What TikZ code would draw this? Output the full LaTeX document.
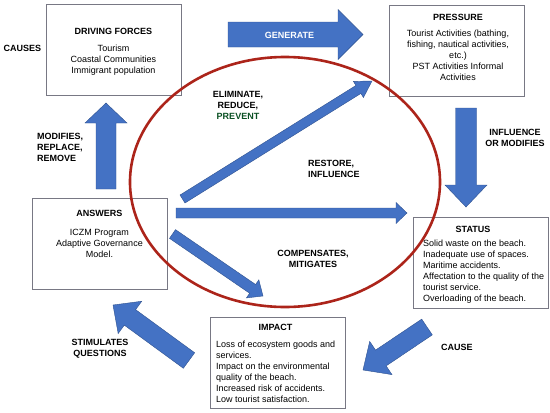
\documentclass[tikz,border=0pt]{standalone}
\usepackage{fontspec}
\setmainfont{Liberation Sans}
\usetikzlibrary{calc}
\definecolor{arrowblue}{RGB}{68,114,196}
\definecolor{arrowedge}{RGB}{47,82,143}
\definecolor{boxgray}{RGB}{120,120,132}
\definecolor{ringred}{RGB}{172,36,26}
\definecolor{darkgreen}{RGB}{10,80,35}
\tikzset{
  box/.style={draw=boxgray, line width=0.8pt, minimum width=135pt, minimum height=91pt, inner sep=0pt},
  txt/.style={font=\fontsize{9}{11}\selectfont, inner sep=0pt, align=center},
  lbl/.style={font=\bfseries\fontsize{9}{11}\selectfont, inner sep=0pt, align=center},
  blockarrow/.style={fill=arrowblue, draw=arrowedge, line width=0.4pt, line join=miter},
  ring/.style={draw=ringred, line width=2.6pt}
}
% #1 from, #2 to, #3 shaft half width, #4 head half width, #5 head length
\newcommand\blockarrow[5]{%
  \coordinate (ba-h) at ($(#2)!#5!(#1)$);
  \filldraw[blockarrow] ($(#1)!#3!90:(#2)$) -- ($(ba-h)!#3!90:(#2)$) -- ($(ba-h)!#4!90:(#2)$) -- (#2)
    -- ($(ba-h)!#4!-90:(#2)$) -- ($(ba-h)!#3!-90:(#2)$) -- ($(#1)!#3!-90:(#2)$) -- cycle;
}
\begin{document}
\begin{tikzpicture}[x=1pt,y=-1pt]
\useasboundingbox (0,0) rectangle (550,413);

% boxes
\node[box] (df) at (113.5,49.5) {};
\node[box] (pr) at (457,51) {};
\node[box] (an) at (99.5,244) {};
\node[box] (st) at (480.5,263) {};
\node[box] (im) at (277.5,362.5) {};

% box texts
\node[txt] (df-t) at (113.5,52) {\textbf{DRIVING FORCES}\\[6pt]Tourism\\Coastal Communities\\Immigrant population};
\node[txt] (pr-t) at (458,47.5) {\textbf{PRESSURE}\\[5pt]Tourist Activities (bathing,\\fishing, nautical activities,\\etc.)\\PST Activities Informal\\Activities};
\node[txt] (an-t) at (99.5,234) {\textbf{ANSWERS}\\[8pt]ICZM Program\\Adaptive Governance\\Model.};
\node[txt] (st-h) at (473,229) {\textbf{STATUS}};
\node[txt, anchor=west, align=left] (st-t) at (423,271.5) {Solid waste on the beach.\\Inadequate use of spaces.\\Maritime accidents.\\Affectation to the quality of the\\tourist service.\\Overloading of the beach.};
\node[txt] (im-h) at (275.5,327) {\textbf{IMPACT}};
\node[txt, anchor=west, align=left] (im-t) at (216,372) {Loss of ecosystem goods and\\services.\\Impact on the environmental\\quality of the beach.\\Increased risk of accidents.\\Low tourist satisfaction.};

% red ring
\draw[ring] (285,182) ellipse [x radius=155pt, y radius=125pt];

% arrow end points
\coordinate (gen-a) at (228,34.5);  \coordinate (gen-b) at (363,34.5);
\coordinate (inf-a) at (466,108);   \coordinate (inf-b) at (466,207);
\coordinate (mod-a) at (106,189);   \coordinate (mod-b) at (106,103);
\coordinate (cau-a) at (427,327);   \coordinate (cau-b) at (363,370);
\coordinate (sti-a) at (189,360.5); \coordinate (sti-b) at (113,305);
\coordinate (eli-a) at (182.5,199); \coordinate (eli-b) at (372,81);
\coordinate (res-a) at (176,213);   \coordinate (res-b) at (407,213);
\coordinate (com-a) at (172.5,234); \coordinate (com-b) at (263,296);

\blockarrow{gen-a}{gen-b}{12.5pt}{25pt}{25pt}
\blockarrow{inf-a}{inf-b}{10.5pt}{21pt}{22pt}
\blockarrow{mod-a}{mod-b}{10pt}{21pt}{20pt}
\blockarrow{cau-a}{cau-b}{9.5pt}{20pt}{21.5pt}
\blockarrow{sti-a}{sti-b}{9.6pt}{20pt}{21pt}
\blockarrow{eli-a}{eli-b}{4.7pt}{9.5pt}{16pt}
\blockarrow{res-a}{res-b}{5pt}{10.5pt}{11pt}
\blockarrow{com-a}{com-b}{5.3pt}{11pt}{12.6pt}

% labels
\node[lbl, text=white] (gen-l) at (289.5,35) {GENERATE};
\node[lbl] (causes-l) at (22.5,48) {CAUSES};
\node[lbl] (eli-l) at (238,105) {ELIMINATE,\\REDUCE,\\\textcolor{darkgreen}{PREVENT}};
\node[lbl, anchor=west, align=left] (mod-l) at (37,147.5) {MODIFIES,\\REPLACE,\\REMOVE};
\node[lbl, anchor=west, align=left] (res-l) at (308,168.5) {RESTORE,\\INFLUENCE};
\node[lbl] (inf-l) at (515,138) {INFLUENCE\\OR MODIFIES};
\node[lbl] (com-l) at (313,258.5) {COMPENSATES,\\MITIGATES};
\node[lbl] (sti-l) at (100,349) {STIMULATES\\QUESTIONS};
\node[lbl] (cau-l) at (457,347) {CAUSE};
\end{tikzpicture}
\end{document}
